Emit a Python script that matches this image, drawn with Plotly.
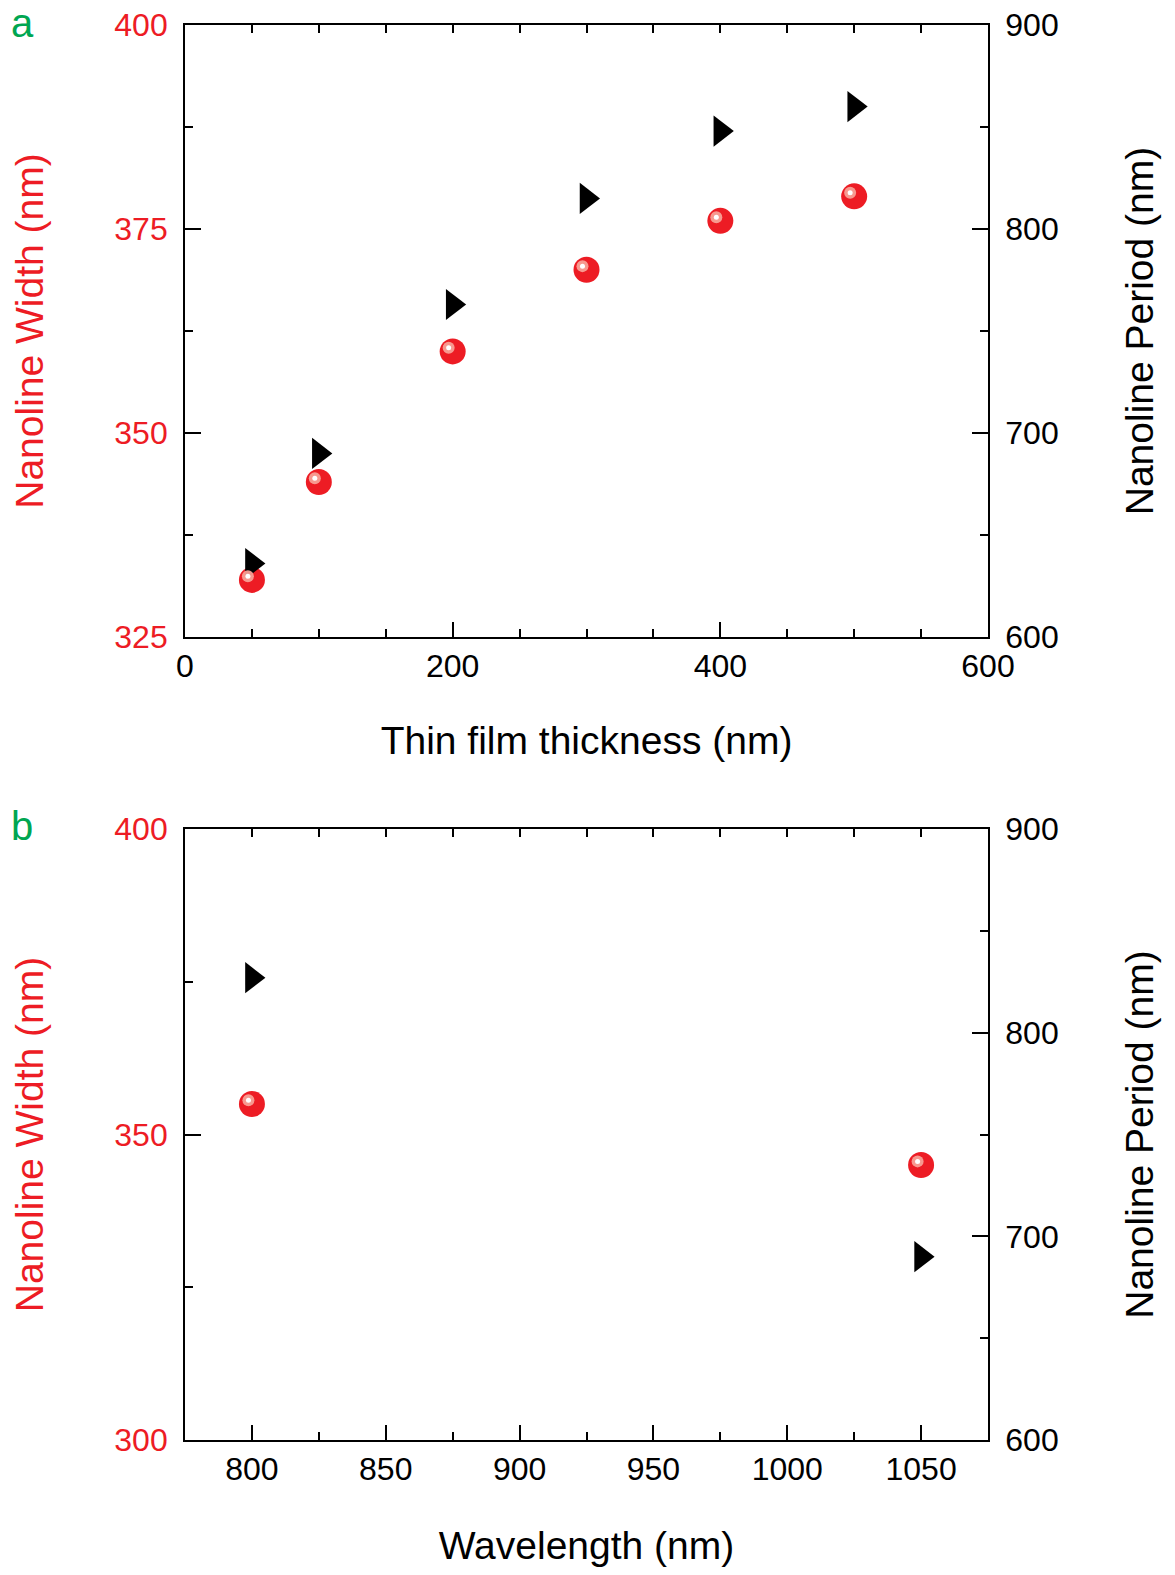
import plotly.graph_objects as go

RED = "#ed1c24"
GREEN = "#00a651"
FONT = "Liberation Sans, Arial, sans-serif"

# Panel a data
thickness = [50, 100, 200, 300, 400, 500]
width_a = [332, 344, 360, 370, 376, 379]
period_a = [636, 690, 763, 815, 848, 860]

# Panel b data
wavelength = [800, 1050]
width_b = [355, 345]
period_b = [827, 690]

OFF = 8  # browser body margin
W, H = 1175 - 2 * OFF, 1575 - 2 * OFF
def px_x(p):
    return (p - OFF) / W
def px_y(p):
    return 1 - (p - OFF) / H

dom_x = [px_x(185), px_x(988)]
dom_ya = [px_y(637), px_y(25)]
dom_yb = [px_y(1440), px_y(829)]

fig = go.Figure()

sphere = dict(color=RED, size=26, line=dict(width=0))
hl1 = dict(color="rgba(248,160,150,0.95)", size=12, line=dict(width=0))
hl2 = dict(color="white", size=5, line=dict(width=0))
tri = dict(color="black", size=27, symbol="triangle-right", line=dict(width=0))
ghost = dict(color="rgba(0,0,0,0)", size=1)

# Panel a
fig.add_trace(go.Scatter(x=thickness, y=width_a, mode="markers", marker=ghost,
                         xaxis="x3", yaxis="y", showlegend=False, hoverinfo="skip"))
fig.add_trace(go.Scatter(x=thickness, y=width_a, mode="markers", marker=sphere,
                         xaxis="x", yaxis="y", showlegend=False))
fig.add_trace(go.Scatter(x=thickness, y=width_a, mode="markers", marker=hl1,
                         xaxis="x5", yaxis="y5", showlegend=False, hoverinfo="skip"))
fig.add_trace(go.Scatter(x=thickness, y=width_a, mode="markers", marker=hl2,
                         xaxis="x5", yaxis="y5", showlegend=False, hoverinfo="skip"))
fig.add_trace(go.Scatter(x=thickness, y=period_a, mode="markers", marker=tri,
                         xaxis="x", yaxis="y2", showlegend=False))

# Panel b
fig.add_trace(go.Scatter(x=wavelength, y=width_b, mode="markers", marker=ghost,
                         xaxis="x4", yaxis="y3", showlegend=False, hoverinfo="skip"))
fig.add_trace(go.Scatter(x=wavelength, y=width_b, mode="markers", marker=sphere,
                         xaxis="x2", yaxis="y3", showlegend=False))
fig.add_trace(go.Scatter(x=wavelength, y=width_b, mode="markers", marker=hl1,
                         xaxis="x6", yaxis="y6", showlegend=False, hoverinfo="skip"))
fig.add_trace(go.Scatter(x=wavelength, y=width_b, mode="markers", marker=hl2,
                         xaxis="x6", yaxis="y6", showlegend=False, hoverinfo="skip"))
fig.add_trace(go.Scatter(x=wavelength, y=period_b, mode="markers", marker=tri,
                         xaxis="x2", yaxis="y4", showlegend=False))

tickfont = dict(family=FONT, size=32, color="black")
titlefont = dict(family=FONT, size=39, color="black")
common = dict(showline=True, linewidth=2, linecolor="black", ticks="inside",
              tickwidth=2, tickcolor="black", showgrid=False, zeroline=False,
              automargin=False, ticklabeloverflow="allow")

def xax(rng, dtick, mdtick, title, anchor, standoff):
    return dict(common, domain=dom_x, range=rng, dtick=dtick, tick0=0, ticklen=15,
                mirror=True,
                minor=dict(ticks="inside", dtick=mdtick, ticklen=8, tickwidth=2,
                           tickcolor="black", showgrid=False),
                tickfont=tickfont, anchor=anchor,
                title=dict(text=title, font=titlefont, standoff=standoff))

def topax(rng, mdtick, overlay, anchor):
    return dict(common, domain=dom_x, range=rng, dtick=mdtick, tick0=0, ticklen=8,
                side="top", overlaying=overlay, anchor=anchor, showticklabels=False)

def yleft(rng, dtick, mdtick, dom, anchor):
    return dict(common, domain=dom, range=rng, dtick=dtick, tick0=0, ticklen=16,
                ticksuffix="\u00a0",
                minor=dict(ticks="inside", dtick=mdtick, ticklen=8, tickwidth=2,
                           tickcolor="black", showgrid=False),
                tickfont=dict(family=FONT, size=32, color=RED), anchor=anchor,
                title=dict(text="Nanoline Width (nm)",
                           font=dict(family=FONT, size=39, color=RED), standoff=60))

def yright(rng, overlay, anchor):
    return dict(common, range=rng, dtick=100, tick0=0, ticklen=16, side="right",
                overlaying=overlay, anchor=anchor, tickprefix="\u00a0",
                minor=dict(ticks="inside", dtick=50, ticklen=8, tickwidth=2,
                           tickcolor="black", showgrid=False),
                tickfont=tickfont,
                title=dict(text="Nanoline Period (nm)", font=titlefont, standoff=68))

hidden = dict(visible=False, showgrid=False, zeroline=False)

fig.update_layout(
    width=W, height=H,
    margin=dict(l=0, r=0, t=0, b=0),
    paper_bgcolor="white", plot_bgcolor="white",
    font=dict(family=FONT),
    hovermode="closest",
    xaxis=xax([0, 600], 200, 50, "Thin film thickness (nm)", "y", 43),
    xaxis3=topax([0, 600], 50, "x", "y"),
    yaxis=yleft([325, 400], 25, 12.5, dom_ya, "x"),
    yaxis2=yright([600, 900], "y", "x"),
    xaxis2=xax([775, 1075], 50, 25, "Wavelength (nm)", "y3", 50),
    xaxis4=topax([775, 1075], 25, "x2", "y3"),
    yaxis3=yleft([300, 400], 50, 25, dom_yb, "x2"),
    yaxis4=yright([600, 900], "y3", "x2"),
    # highlight offset axes (shift sphere highlight up-left by a few px)
    xaxis5=dict(hidden, domain=dom_x, range=[3, 603], overlaying="x", anchor="y5"),
    yaxis5=dict(hidden, domain=dom_ya, range=[324.55, 399.55], overlaying="y", anchor="x5"),
    xaxis6=dict(hidden, domain=dom_x, range=[776.3, 1076.3], overlaying="x2", anchor="y6"),
    yaxis6=dict(hidden, domain=dom_yb, range=[299.4, 399.4], overlaying="y3", anchor="x6"),
    annotations=[
        dict(text="a", x=px_x(22), y=px_y(23), xref="paper", yref="paper",
             xanchor="center", yanchor="middle",
             showarrow=False, font=dict(family=FONT, size=40, color=GREEN)),
        dict(text="b", x=px_x(22), y=px_y(826), xref="paper", yref="paper",
             xanchor="center", yanchor="middle",
             showarrow=False, font=dict(family=FONT, size=40, color=GREEN)),
    ],
)

fig.write_html("out.html")
